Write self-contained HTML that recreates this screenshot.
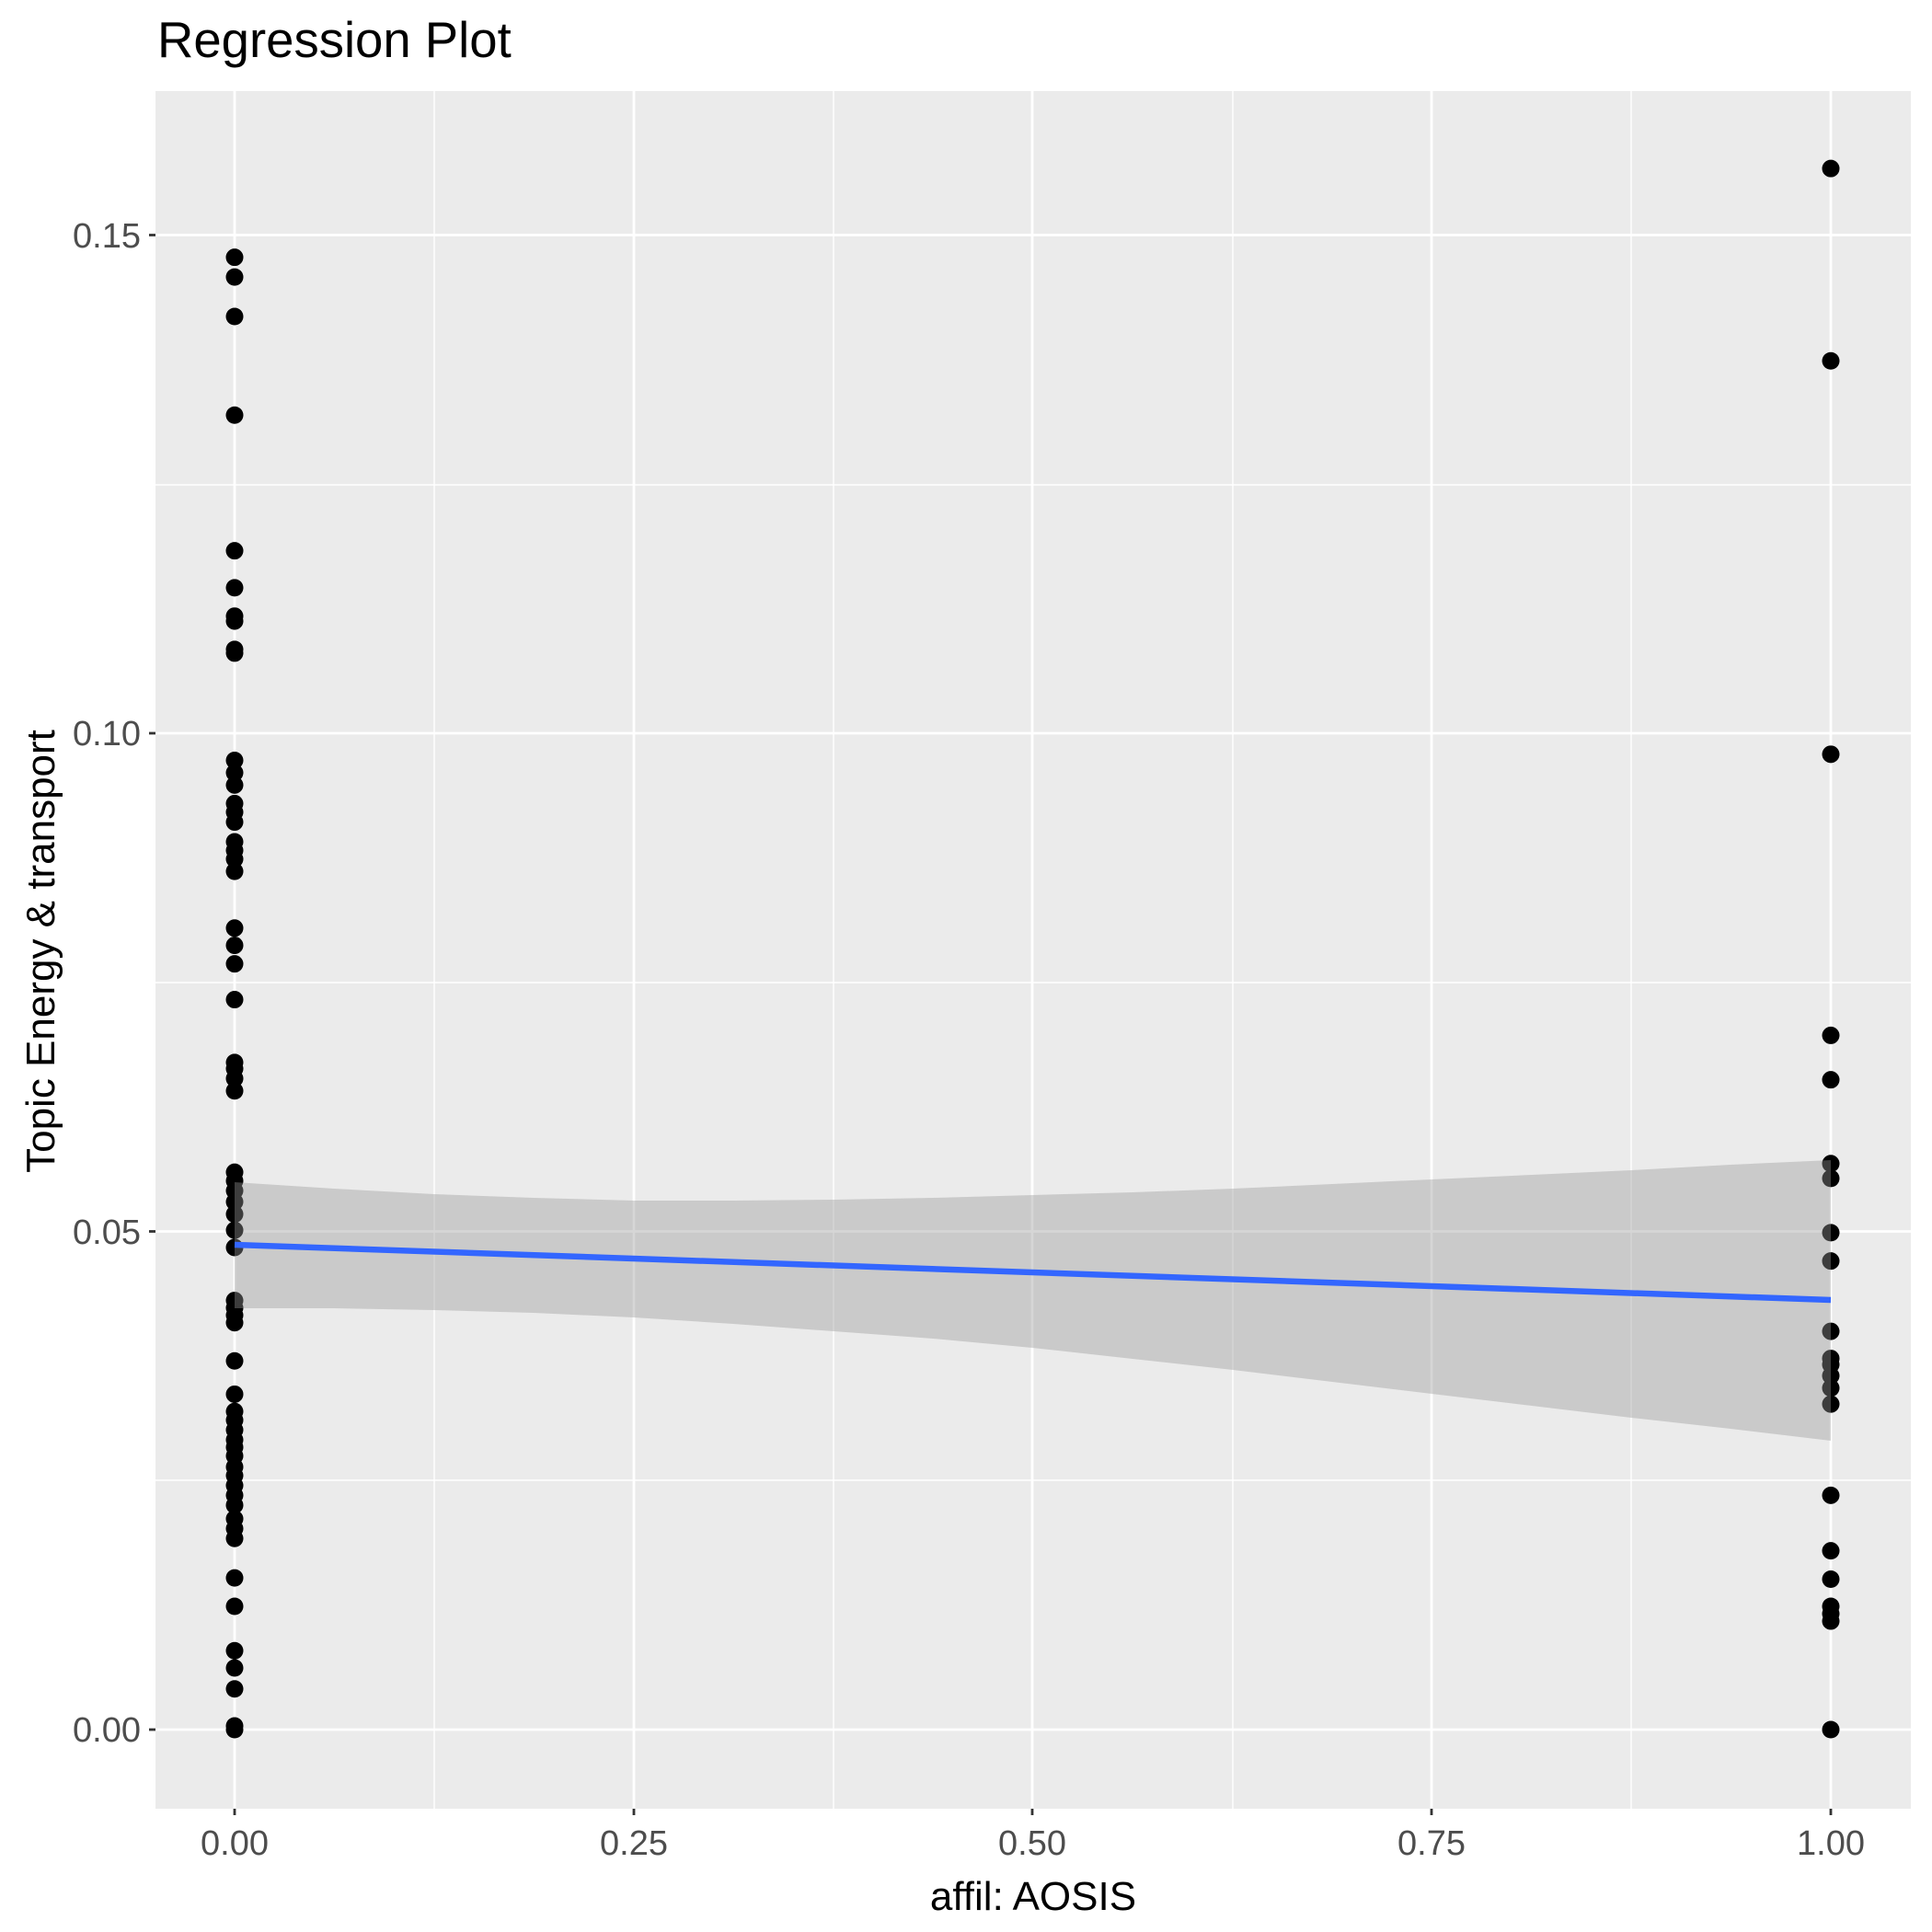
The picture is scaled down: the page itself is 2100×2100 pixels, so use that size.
<!DOCTYPE html>
<html><head><meta charset="utf-8"><style>html,body{margin:0;padding:0;background:#fff}svg{display:block}</style></head>
<body>
<svg width="2100" height="2100" viewBox="0 0 2100 2100" xmlns="http://www.w3.org/2000/svg" font-family="Liberation Sans, Arial, sans-serif">
<rect x="0" y="0" width="2100" height="2100" fill="#fff"/>
<rect x="169" y="99" width="1908" height="1867" fill="#ebebeb"/>
<g stroke="#fff" stroke-width="1.4">
<line x1="169" x2="2077" y1="1609" y2="1609"/><line x1="169" x2="2077" y1="1068" y2="1068"/><line x1="169" x2="2077" y1="527" y2="527"/>
<line y1="99" y2="1966" x1="472" x2="472"/><line y1="99" y2="1966" x1="906" x2="906"/><line y1="99" y2="1966" x1="1340" x2="1340"/><line y1="99" y2="1966" x1="1773" x2="1773"/>
</g>
<g stroke="#fff" stroke-width="2.8">
<line x1="169" x2="2077" y1="1880" y2="1880"/><line x1="169" x2="2077" y1="1338.5" y2="1338.5"/><line x1="169" x2="2077" y1="797" y2="797"/><line x1="169" x2="2077" y1="255.5" y2="255.5"/>
<line y1="99" y2="1966" x1="255" x2="255"/><line y1="99" y2="1966" x1="689" x2="689"/><line y1="99" y2="1966" x1="1122" x2="1122"/><line y1="99" y2="1966" x1="1556" x2="1556"/><line y1="99" y2="1966" x1="1990" x2="1990"/>
</g>
<g transform="matrix(1,0,0,1.3403,0,-0.44)">
<path fill="none" stroke="#000" stroke-width="19" stroke-linecap="round" vector-effect="non-scaling-stroke" d="M255 209h0M255 225h0M255 257h0M255 337h0M255 447h0M255 477h0M255 500h0M255 504h0M255 527h0M255 530h0M255 617h0M255 627h0M255 637h0M255 652h0M255 659h0M255 667h0M255 683h0M255 690h0M255 697h0M255 707h0M255 753h0M255 767h0M255 782h0M255 811h0M255 862h0M255 867h0M255 875h0M255 885h0M255 951h0M255 958h0M255 966h0M255 975h0M255 985h0M255 998h0M255 1012h0M255 1055h0M255 1061h0M255 1067h0M255 1073h0M255 1104h0M255 1131h0M255 1145h0M255 1152h0M255 1160h0M255 1168h0M255 1174h0M255 1181h0M255 1190h0M255 1197h0M255 1205h0M255 1213h0M255 1221h0M255 1232h0M255 1240h0M255 1248h0M255 1280h0M255 1303h0M255 1339h0M255 1353h0M255 1370h0M255 1400h0M255 1403h0
M1990 137h0M1990 293h0M1990 612h0M1990 840h0M1990 876h0M1990 944h0M1990 956h0M1990 1000h0M1990 1023h0M1990 1080h0M1990 1102h0M1990 1107h0M1990 1116h0M1990 1126h0M1990 1139h0M1990 1213h0M1990 1258h0M1990 1281h0M1990 1303h0M1990 1309h0M1990 1315h0M1990 1403h0"/>
</g>
<polygon fill="#999" fill-opacity="0.4" points="255,1285 363,1292 472,1298 580,1302 689,1305 797,1305 906,1304 1014,1302 1122,1299 1231,1296 1340,1292 1448,1287 1556,1282 1665,1277 1773,1272 1881,1266 1990,1261 1990,1566 1881,1553 1773,1541 1665,1528 1556,1515 1448,1502 1340,1489 1231,1477 1122,1465 1014,1455 906,1447 797,1439 689,1432 580,1427 472,1424 363,1422 255,1422"/>
<line x1="255" y1="1353" x2="1990" y2="1413" stroke="#3366ff" stroke-width="6.5"/>
<g stroke="#333" stroke-width="2.8">
<line x1="162" x2="169" y1="1880" y2="1880"/><line x1="162" x2="169" y1="1338.5" y2="1338.5"/><line x1="162" x2="169" y1="797" y2="797"/><line x1="162" x2="169" y1="255.5" y2="255.5"/>
<line y1="1966" y2="1973" x1="255" x2="255"/><line y1="1966" y2="1973" x1="689" x2="689"/><line y1="1966" y2="1973" x1="1122" x2="1122"/><line y1="1966" y2="1973" x1="1556" x2="1556"/><line y1="1966" y2="1973" x1="1990" x2="1990"/>
</g>
<g fill="#4d4d4d" font-size="38" text-anchor="end">
<text x="153" y="1893">0.00</text><text x="153" y="1352">0.05</text><text x="153" y="810">0.10</text><text x="153" y="269">0.15</text>
</g>
<g fill="#4d4d4d" font-size="38" text-anchor="middle">
<text x="255" y="2016">0.00</text><text x="689" y="2016">0.25</text><text x="1122" y="2016">0.50</text><text x="1556" y="2016">0.75</text><text x="1990" y="2016">1.00</text>
</g>
<text x="1123" y="2076" font-size="44" text-anchor="middle" fill="#000">affil: AOSIS</text>
<text transform="translate(59,1034) rotate(-90)" font-size="44" text-anchor="middle" fill="#000">Topic Energy &amp; transport</text>
<text x="171" y="62" font-size="54.5" fill="#000">Regression Plot</text>
</svg>
</body></html>
